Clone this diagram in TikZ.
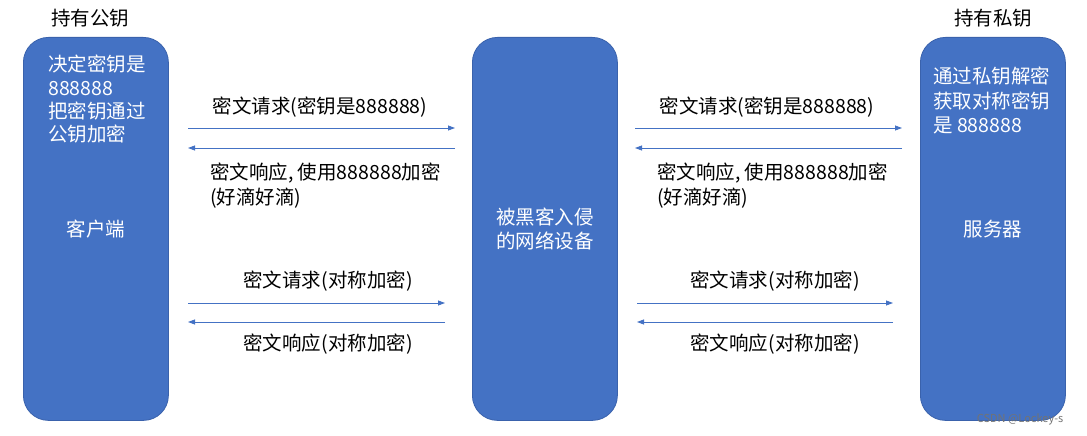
\documentclass[tikz,border=0pt]{standalone}
\usepackage{fontspec}
\setmainfont{Noto Sans CJK SC}
\usetikzlibrary{arrows.meta}
\definecolor{boxblue}{HTML}{4472C4}
\definecolor{boxedge}{HTML}{3A62AC}

\tikzset{
  host/.style={draw=boxedge, line width=0.8pt, fill=boxblue, rounded corners=25pt,
    minimum width=145pt, minimum height=383pt, inner sep=0pt, anchor=north west},
  msg/.style={inner sep=0pt, font=\fontsize{19.5}{24}\selectfont},
  intext/.style={msg, text=white, align=left},
  link/.style={draw=boxblue, line width=0.8pt, -{Triangle[length=7pt,width=5pt]}}
}

\begin{document}
\begin{tikzpicture}[x=1pt, y=-1pt]
    \useasboundingbox (0,0) rectangle (1087,436);

    %Machines
    \node[host] (client) at (23,37) {};
    \node[host] (hacker) at (472,37) {};
    \node[host] (server) at (920,37) {};

    \node[msg] (pubkey) at (90,18) {持有公钥};
    \node[msg] (privkey) at (993,18) {持有私钥};

    \node[intext, anchor=north west, font=\fontsize{19.5}{23.3}\selectfont] (clientnote) at (48,55) {决定密钥是\\888888\\把密钥通过\\公钥加密};
    \node[intext] (clientname) at (96,229) {客户端};
    \node[intext, align=center] (hackername) at (545,229) {被黑客入侵\\的网络设备};
    \node[intext, anchor=north west, font=\fontsize{19.5}{24.5}\selectfont] (servernote) at (933,67) {通过私钥解密\\获取对称密钥\\是 888888};
    \node[intext] (servername) at (993,229) {服务器};

    %Fleches
    \coordinate (a1) at (188,128); \coordinate (b1) at (455,128);
    \coordinate (a2) at (188,148); \coordinate (b2) at (455,148);
    \coordinate (a3) at (188,303); \coordinate (b3) at (445,303);
    \coordinate (a4) at (188,322); \coordinate (b4) at (445,322);
    \coordinate (c1) at (635,128); \coordinate (d1) at (902,128);
    \coordinate (c2) at (635,148); \coordinate (d2) at (902,148);
    \coordinate (c3) at (637,303); \coordinate (d3) at (893,303);
    \coordinate (c4) at (637,322); \coordinate (d4) at (893,322);

    \draw[link] (a1) -- (b1);
    \draw[link] (b2) -- (a2);
    \draw[link] (a3) -- (b3);
    \draw[link] (b4) -- (a4);
    \draw[link] (c1) -- (d1);
    \draw[link] (d2) -- (c2);
    \draw[link] (c3) -- (d3);
    \draw[link] (d4) -- (c4);

    %Messages
    \node[msg] (req1) at (320,107) {密文请求(密钥是888888)};
    \node[msg, align=left, anchor=north west, font=\fontsize{19.5}{25}\selectfont] (resp1) at (210,163) {密文响应, 使用888888加密\\(好滴好滴)};
    \node[msg] (req2) at (328,281) {密文请求(对称加密)};
    \node[msg] (resp2) at (328,344) {密文响应(对称加密)};
    \node[msg] (req3) at (767,107) {密文请求(密钥是888888)};
    \node[msg, align=left, anchor=north west, font=\fontsize{19.5}{25}\selectfont] (resp3) at (657,163) {密文响应, 使用888888加密\\(好滴好滴)};
    \node[msg] (req4) at (775,281) {密文请求(对称加密)};
    \node[msg] (resp4) at (775,344) {密文响应(对称加密)};

    \node[inner sep=0pt, text=black!55, font=\fontsize{11}{13}\selectfont] (mark) at (1020,419) {CSDN @Lockey-s};
\end{tikzpicture}
\end{document}
